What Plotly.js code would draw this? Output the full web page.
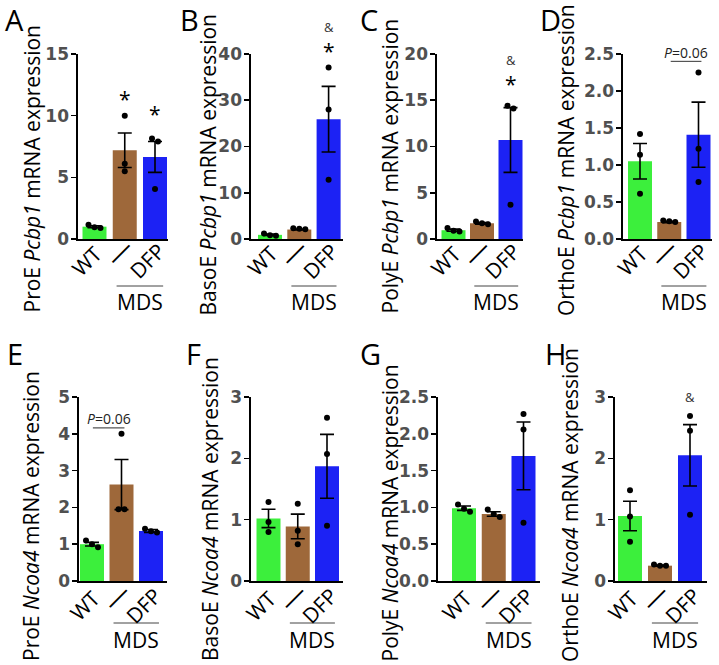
<!DOCTYPE html>
<html><head><meta charset="utf-8">
<script src="https://cdn.plot.ly/plotly-3.0.1.min.js"></script>
<style>html,body{margin:0;padding:0;background:#fff}#chart{width:719px;height:665px}</style>
</head><body><div id="chart"></div>
<script>
// ---- data ----
const groups = ['WT', '—', 'DFP'];
const panelLetters = ['A', 'B', 'C', 'D', 'E', 'F', 'G', 'H'];
const yTitles = [
  'ProE <i>Pcbp1</i> mRNA expression',
  'BasoE <i>Pcbp1</i> mRNA expression',
  'PolyE <i>Pcbp1</i> mRNA expression',
  'OrthoE <i>Pcbp1</i> mRNA expression',
  'ProE <i>Ncoa4</i> mRNA expression',
  'BasoE <i>Ncoa4</i> mRNA expression',
  'PolyE <i>Ncoa4</i> mRNA expression',
  'OrthoE <i>Ncoa4</i> mRNA expression'
];
const yMax = [15, 40, 20, 2.5, 5, 3, 2.5, 3];
const yDtick = [5, 10, 5, 0.5, 1, 1, 0.5, 1];

const meanA = [1.0, 7.2, 6.65];   const semA = [0.08, 1.4, 1.25];
const dotsA = [[1.15, 0.95, 0.9], [10.0, 6.1, 5.5], [8.15, 7.9, 4.05]];
const meanB = [0.9, 2.05, 25.9];  const semB = [0.15, 0.1, 7.1];
const dotsB = [[1.2, 0.7, 0.8], [2.3, 2.2, 2.1], [37.1, 28.0, 12.8]];
const meanC = [0.95, 1.7, 10.7];  const semC = [0.12, 0.09, 3.5];
const dotsC = [[1.2, 0.9, 0.8], [1.9, 1.7, 1.6], [14.4, 14.1, 3.7]];
const meanD = [1.05, 0.23, 1.41]; const semD = [0.24, 0.01, 0.44];
const dotsD = [[1.42, 1.14, 0.61], [0.25, 0.24, 0.23], [2.25, 1.22, 0.77]];
const meanE = [1.0, 2.62, 1.36];  const semE = [0.05, 0.68, 0.04];
const dotsE = [[1.1, 1.0, 0.92], [4.0, 1.95, 1.95], [1.42, 1.35, 1.32]];
const meanF = [1.02, 0.89, 1.87]; const semF = [0.15, 0.2, 0.52];
const dotsF = [[1.29, 0.96, 0.8], [1.26, 0.82, 0.6], [2.66, 2.07, 0.9]];
const meanG = [0.99, 0.91, 1.70]; const semG = [0.03, 0.03, 0.46];
const dotsG = [[1.04, 0.98, 0.94], [0.97, 0.91, 0.87], [2.27, 2.06, 0.79]];
const meanH = [1.06, 0.25, 2.05]; const semH = [0.24, 0.01, 0.5];
const dotsH = [[1.48, 1.05, 0.64], [0.27, 0.25, 0.25], [2.69, 2.45, 1.08]];

const means = [meanA, meanB, meanC, meanD, meanE, meanF, meanG, meanH];
const sems = [semA, semB, semC, semD, semE, semF, semG, semH];
const dots = [dotsA, dotsB, dotsC, dotsD, dotsE, dotsF, dotsG, dotsH];

// significance marks: [panel, group, text, y of the mark's centre]
const sigMarks = [
  [0, 1, '*', 11.4], [0, 2, '*', 10.2],
  [1, 2, '&<br>*', 40.5], [2, 2, '&<br>*', 16.6],
  [7, 2, '&', 3.0]
];
// p-value brackets: [panel, fromX, toX, lineY, textY, text]
const pMarks = [[3, 1.05, 2.1, 2.40, 2.52, '<i>P</i>=0.06'], [4, 0.03, 1.1, 4.16, 4.42, '<i>P</i>=0.06']];

// ---- layout geometry (pixels) ----
const W = 719, H = 665;
const colors = ['#3cef3c', '#9e683a', '#1c22f4'];
const panelGeo = [
  {axis: 78, c0: 94.5, s: 30.25, end: 168, row: 0},
  {axis: 251, c0: 270, s: 29.3, end: 343, row: 0},
  {axis: 437, c0: 453.5, s: 28.5, end: 523, row: 0},
  {axis: 623, c0: 640, s: 29.25, end: 712, row: 0},
  {axis: 79, c0: 92, s: 29.5, end: 167, row: 1},
  {axis: 251, c0: 268.5, s: 29.25, end: 343, row: 1},
  {axis: 438, c0: 464, s: 29.75, end: 540, row: 1},
  {axis: 615, c0: 630, s: 30, end: 707, row: 1}
];
const rowTop = [54, 397], rowBottom = [239, 581];
const titleGeo = [[32, 315], [207, 317], [390, 315], [566, 318], [31, 663], [210, 663], [389, 663], [570, 664]];
const letterGeo = [[3, -2], [178, -2], [358, -2], [538, -2], [5, 332], [184, 332], [358, 332], [543, 332]];
const mdsLineY = [286, 623], mdsTextY = [302, 640];
// rotated category label centres: [xshift px, centre below axis px, font size]
const xLabelGeo = [[-8, 22, 21], [-6, 13, 26], [-8, 22, 21]];
const xLabelRowExtra = [0, 2.5];

const px2x = p => p / W;
const px2y = p => 1 - p / H;
const fontFam = '"Open Sans", "DejaVu Sans", sans-serif';
const tickFam = '"DejaVu Sans", "Open Sans", sans-serif';

const traces = [];
const layout = {
  width: W, height: H, margin: {l: 0, r: 0, t: 0, b: 0},
  paper_bgcolor: '#fff', plot_bgcolor: 'rgba(0,0,0,0)',
  showlegend: false, font: {family: fontFam, color: '#000'},
  annotations: [], shapes: []
};

function yPaper(p, v) {
  const g = panelGeo[p];
  const top = rowTop[g.row], bot = rowBottom[g.row];
  return px2y(bot - v * (bot - top) / yMax[p]);
}

function spreadOffsets(vals, pxPerUnitY, unitsPerPxX) {
  const idx = vals.map((v, i) => i).sort((a, b) => vals[b] - vals[a]);
  const off = new Array(vals.length).fill(0);
  let cluster = [idx[0]];
  const flush = () => {
    const n = cluster.length;
    cluster.forEach((ci, k) => { off[ci] = (k - (n - 1) / 2) * 6 * unitsPerPxX; });
  };
  for (let k = 1; k < idx.length; k++) {
    const prev = cluster[cluster.length - 1];
    if ((vals[prev] - vals[idx[k]]) * pxPerUnitY < 6) cluster.push(idx[k]);
    else { flush(); cluster = [idx[k]]; }
  }
  flush();
  return off;
}

panelGeo.forEach((g, p) => {
  const n = p + 1;
  const xa = 'x' + (n === 1 ? '' : n), ya = 'y' + (n === 1 ? '' : n);
  const xKey = 'xaxis' + (n === 1 ? '' : n), yKey = 'yaxis' + (n === 1 ? '' : n);
  const top = rowTop[g.row], bot = rowBottom[g.row];
  const pxPerUnitY = (bot - top) / yMax[p];
  const unitsPerPxX = 1 / g.s;

  layout[xKey] = {
    domain: [px2x(g.axis), px2x(g.end)],
    range: [-(g.c0 - g.axis) / g.s, (g.end - g.c0) / g.s],
    anchor: ya, showline: true, linecolor: '#000', linewidth: 1.6,
    ticks: '', showgrid: false, zeroline: false, showticklabels: false, fixedrange: true
  };
  layout[yKey] = {
    domain: [px2y(bot), px2y(top)],
    range: [0, yMax[p]], dtick: yDtick[p], tick0: 0,
    tickformat: yDtick[p] < 1 ? '.1f' : 'd',
    anchor: xa, showline: true, linecolor: '#000', linewidth: 1.6,
    ticks: 'outside', ticklen: 5, tickwidth: 1.6, tickcolor: '#000',
    showgrid: false, zeroline: false, ticklabelstandoff: -1,
    tickfont: {family: tickFam, size: 17, color: '#505050', weight: 700}, fixedrange: true
  };

  traces.push({
    type: 'bar', x: [0, 1, 2], y: means[p], xaxis: xa, yaxis: ya,
    width: 24 / g.s, marker: {color: colors, line: {width: 0}},
    error_y: {type: 'data', array: sems[p], visible: true, color: '#000', thickness: 1.6, width: 7}
  });

  const dx = [], dy = [];
  dots[p].forEach((vals, gi) => {
    const off = spreadOffsets(vals, pxPerUnitY, unitsPerPxX);
    vals.forEach((v, k) => { dx.push(gi + off[k]); dy.push(v); });
  });
  traces.push({
    type: 'scatter', mode: 'markers', x: dx, y: dy, xaxis: xa, yaxis: ya,
    marker: {color: '#000', size: 6}, cliponaxis: false
  });

  // rotated category labels
  groups.forEach((lab, gi) => {
    const [xs, dyC, fs] = xLabelGeo[gi];
    layout.annotations.push({
      text: lab, textangle: -45, xref: xa, yref: 'paper', x: gi, xshift: xs,
      y: px2y(bot + dyC + xLabelRowExtra[g.row]), xanchor: 'center', yanchor: 'middle', showarrow: false,
      font: {family: fontFam, size: fs, color: '#000'}
    });
  });

  // y title
  layout.annotations.push({
    text: yTitles[p], textangle: -90, xref: 'paper', yref: 'paper',
    x: px2x(titleGeo[p][0]), y: px2y(titleGeo[p][1]), xanchor: 'center', yanchor: 'bottom',
    showarrow: false, font: {family: fontFam, size: 21, color: '#000'}
  });
  // panel letter
  layout.annotations.push({
    text: panelLetters[p], xref: 'paper', yref: 'paper',
    x: px2x(letterGeo[p][0]), y: px2y(letterGeo[p][1]), xanchor: 'left', yanchor: 'top',
    showarrow: false, font: {family: fontFam, size: 29, color: '#000'}
  });
  // MDS bracket
  layout.shapes.push({
    type: 'line', xref: xa, yref: 'paper', x0: 0.73, x1: 2.27,
    y0: px2y(mdsLineY[g.row]), y1: px2y(mdsLineY[g.row]), line: {color: '#444', width: 1}
  });
  layout.annotations.push({
    text: 'MDS', xref: xa, yref: 'paper', x: 1.5, y: px2y(mdsTextY[g.row]),
    xanchor: 'center', yanchor: 'middle', showarrow: false,
    font: {family: fontFam, size: 21, color: '#000'}
  });
});

function axName(p, k) { return k + (p === 0 ? '' : (p + 1)); }
sigMarks.forEach(([p, gi, t, y]) => {
  const isAmpOnly = t === '&';
  const txt = t.replace('&', '<span style="font-size:13px;color:#333">&</span>');
  layout.annotations.push({
    text: txt, xref: axName(p, 'x'), yref: 'paper', x: gi, y: yPaper(p, y),
    yanchor: isAmpOnly ? 'middle' : 'top', yshift: isAmpOnly ? 0 : (t.length > 1 ? 36 : 15),
    showarrow: false, font: {family: fontFam, size: isAmpOnly ? 13 : 21, color: '#000'}
  });
});
pMarks.forEach(([p, x0, x1, ly, ty, t]) => {
  layout.shapes.push({type: 'line', xref: axName(p, 'x'), yref: 'paper', x0: x0, x1: x1,
    y0: yPaper(p, ly), y1: yPaper(p, ly), line: {color: '#555', width: 1.2}});
  layout.annotations.push({text: t, xref: axName(p, 'x'), yref: 'paper', x: (x0 + x1) / 2, y: yPaper(p, ty),
    yanchor: 'middle', showarrow: false, font: {family: fontFam, size: 14, color: '#222'}});
});

Plotly.newPlot('chart', traces, layout, {staticPlot: true, displayModeBar: false});
</script></body></html>
